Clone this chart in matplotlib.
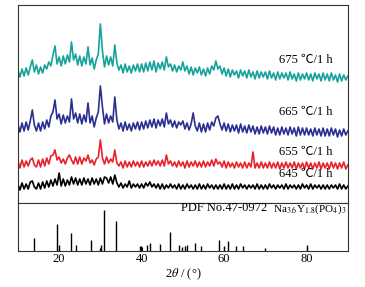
import numpy as np
import matplotlib
matplotlib.use("Agg")
import matplotlib.pyplot as plt

# ── DATOS ─────────────────────────────────────────────────────────────────────
two_theta = np.arange(10, 90.5, 0.5)  # rejilla de medida 2θ (°)

i_675 = [133, 126, 134, 127, 135, 128, 136, 143, 131, 138,
         129, 136, 130, 138, 134, 141, 137, 148, 157, 139,
         146, 137, 147, 139, 148, 141, 161, 143, 149, 138,
         147, 137, 146, 139, 156, 138, 145, 134, 143, 149,
         179, 152, 136, 147, 138, 146, 137, 158, 140, 133,
         138, 130, 139, 131, 137, 130, 138, 132, 139, 131,
         139, 131, 140, 132, 141, 133, 142, 131, 140, 134,
         141, 133, 146, 136, 139, 132, 138, 131, 137, 133,
         141, 132, 137, 129, 136, 128, 135, 130, 136, 128,
         134, 127, 135, 129, 137, 133, 142, 134, 137, 129,
         135, 127, 134, 126, 133, 128, 132, 125, 133, 127,
         132, 125, 133, 126, 131, 124, 132, 125, 131, 126,
         131, 124, 132, 125, 130, 123, 131, 124, 130, 125,
         130, 123, 131, 124, 129, 122, 130, 123, 129, 124,
         130, 123, 129, 122, 130, 124, 129, 122, 130, 123,
         129, 122, 130, 123, 128, 121, 129, 122, 128, 123,
         127]

i_665 = [79, 71, 80, 72, 81, 73, 82, 93, 78, 72,
         80, 72, 81, 74, 83, 76, 87, 91, 103, 84,
         89, 79, 88, 80, 87, 81, 104, 84, 90, 80,
         89, 79, 88, 81, 100, 80, 87, 76, 85, 91,
         117, 96, 79, 89, 80, 87, 81, 106, 83, 74,
         80, 72, 81, 73, 79, 72, 80, 74, 81, 73,
         81, 74, 82, 75, 83, 76, 84, 75, 83, 77,
         84, 76, 90, 79, 83, 76, 82, 75, 81, 78,
         82, 74, 80, 73, 79, 90, 77, 72, 80, 71,
         79, 71, 80, 73, 81, 77, 85, 87, 79, 73,
         80, 72, 79, 71, 78, 72, 78, 70, 79, 71,
         77, 70, 78, 71, 77, 69, 76, 69, 77, 70,
         76, 69, 77, 70, 76, 68, 75, 68, 76, 69,
         75, 68, 76, 69, 75, 67, 76, 68, 75, 68,
         75, 68, 74, 67, 75, 68, 74, 67, 75, 67,
         74, 67, 75, 68, 74, 66, 73, 67, 74, 68,
         72]

i_655 = [42, 35, 43, 36, 42, 37, 43, 45, 38, 36,
         43, 36, 44, 37, 45, 39, 47, 48, 53, 43,
         46, 40, 44, 39, 45, 48, 43, 39, 46, 39,
         46, 39, 45, 42, 48, 40, 43, 38, 44, 46,
         63, 45, 39, 46, 40, 44, 41, 53, 40, 37,
         41, 35, 42, 36, 41, 36, 42, 37, 41, 36,
         42, 36, 41, 37, 42, 37, 43, 38, 42, 37,
         43, 37, 48, 39, 42, 37, 41, 36, 42, 37,
         41, 35, 42, 36, 41, 37, 42, 36, 41, 36,
         42, 36, 41, 37, 43, 37, 44, 39, 41, 36,
         42, 35, 41, 36, 40, 35, 41, 36, 40, 35,
         41, 35, 40, 36, 51, 35, 40, 35, 41, 35,
         40, 35, 41, 35, 40, 35, 41, 34, 40, 35,
         41, 35, 40, 35, 41, 34, 40, 35, 40, 34,
         41, 35, 40, 34, 40, 35, 41, 34, 40, 35,
         40, 34, 41, 35, 40, 34, 40, 35, 41, 34,
         38]

i_645 = [19, 13, 20, 14, 19, 14, 21, 22, 16, 14,
         20, 14, 21, 15, 22, 16, 23, 17, 24, 18,
         30, 17, 24, 17, 23, 18, 26, 19, 25, 18,
         24, 18, 25, 19, 24, 18, 25, 19, 24, 18,
         25, 19, 26, 25, 20, 26, 19, 28, 20, 16,
         20, 15, 19, 16, 22, 15, 19, 16, 19, 15,
         19, 15, 20, 17, 21, 16, 19, 15, 19, 14,
         19, 14, 18, 15, 19, 15, 18, 14, 19, 14,
         18, 14, 19, 15, 18, 14, 18, 14, 19, 14,
         18, 14, 19, 15, 18, 14, 18, 14, 18, 14,
         19, 14, 18, 14, 19, 14, 18, 14, 19, 15,
         18, 14, 18, 15, 18, 14, 19, 14, 18, 14,
         18, 14, 19, 15, 18, 14, 18, 15, 18, 14,
         19, 14, 18, 15, 18, 14, 18, 14, 19, 15,
         18, 14, 19, 14, 18, 15, 18, 14, 18, 14,
         18, 14, 18, 15, 18, 14, 19, 14, 18, 14,
         17]

series = [i_645, i_655, i_665, i_675]
etiquetas = ["645 ℃/1 h", "655 ℃/1 h", "665 ℃/1 h", "675 ℃/1 h"]
colores = ["black", "#e8222b", "#2a2f92", "#17a29a"]
y_etiqueta = [29, 51, 91, 143]

# patrón de referencia PDF No.47-0972
pdf_pos = [13.9, 19.5, 19.9, 22.9, 24.0, 27.7, 29.9, 30.2, 31.0, 33.9,
           39.5, 39.9, 41.4, 42.1, 44.4, 46.8, 49.0, 49.9, 50.4, 51.1,
           53.0, 54.5, 58.8, 59.9, 60.9, 62.8, 64.6, 70.0, 80.0]
pdf_int = [30, 66, 14, 43, 14, 26, 6, 15, 100, 73,
           12, 12, 15, 20, 17, 47, 15, 8, 12, 15,
           20, 12, 26, 12, 24, 12, 12, 6, 14]

# ── FIGURA ────────────────────────────────────────────────────────────────────
plt.rcParams['font.family'] = ['Liberation Serif', 'Noto Sans CJK SC', 'DejaVu Serif']
plt.rcParams['mathtext.fontset'] = 'stix'
plt.rcParams['font.size'] = 9

fig = plt.figure(figsize=(3.65, 2.87), dpi=100)
ax = fig.add_axes([0.049, 0.2927, 0.904, 0.69])
ax2 = fig.add_axes([0.049, 0.1265, 0.904, 0.166], sharex=ax)

for y, lab, c, yl in zip(series, etiquetas, colores, y_etiqueta):
    ax.plot(two_theta, y, color=c, lw=1.2)
    ax.text(73.3, yl, lab, fontsize=9, va='center', ha='left')

ax.set_xlim(10, 90)
ax.set_ylim(0, 198)
ax.set_yticks([])
ax.tick_params(axis='x', which='both', bottom=False, labelbottom=False)

ax2.vlines(pdf_pos, 0, pdf_int, color='black', lw=1.0)
ax2.set_ylim(0, 117)
ax2.set_yticks([])
ax2.set_xticks([20, 40, 60, 80])
ax2.tick_params(axis='x', direction='in', length=3, width=0.8, pad=2, labelsize=9)
ax2.text(70.4, 104, 'PDF No.47-0972', ha='right', va='center', fontsize=9)
ax2.text(71.9, 102, r'Na$_{3.6}$Y$_{1.8}$(PO$_4$)$_3$',
         ha='left', va='center', fontsize=8)
ax2.set_xlabel(r'2$\theta$ / (°)', fontsize=9, labelpad=1)

for a in (ax, ax2):
    for s in a.spines.values():
        s.set_linewidth(0.8)
        s.set_color('#333333')

fig.savefig("out.png", dpi=100)
